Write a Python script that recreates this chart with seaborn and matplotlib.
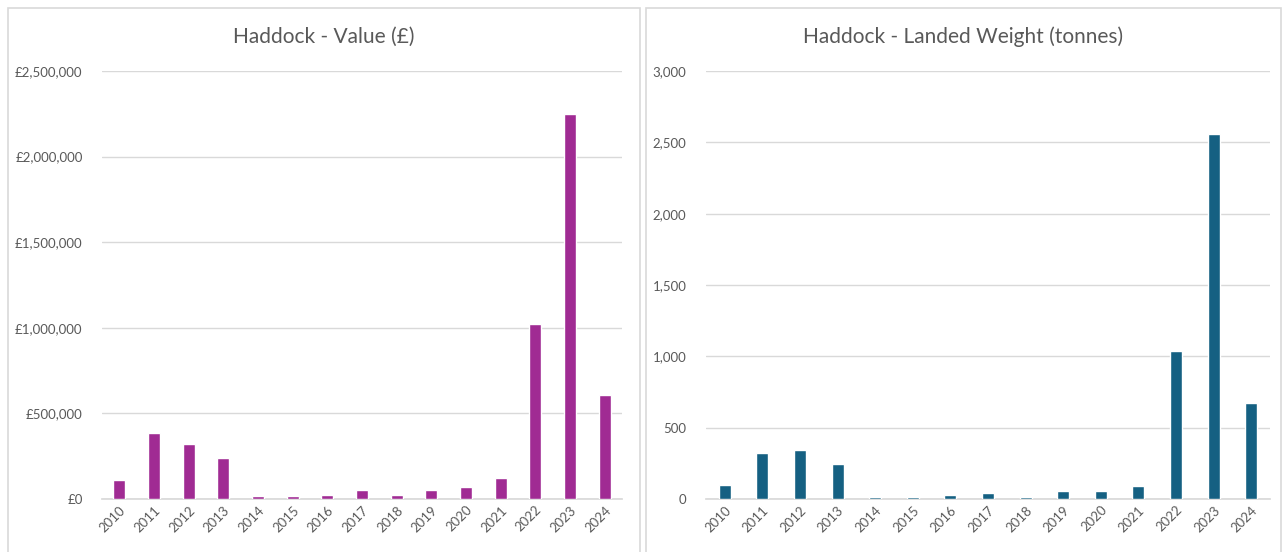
import matplotlib
matplotlib.use('Agg')
import matplotlib.pyplot as plt
import matplotlib.ticker as mticker
from matplotlib.patches import Rectangle
import seaborn as sns
import pandas as pd

# Data
years = ['2010', '2011', '2012', '2013', '2014', '2015', '2016', '2017',
         '2018', '2019', '2020', '2021', '2022', '2023', '2024']
value_gbp = [112000, 385000, 323000, 240000, 16000, 16000, 23000, 53000,
             23000, 53000, 68000, 121000, 1022000, 2250000, 607000]
weight_t = [98, 325, 341, 243, 12, 12, 26, 44,
            11, 54, 54, 91, 1037, 2556, 675]

df = pd.DataFrame({'year': years, 'value': value_gbp, 'weight': weight_t})

sns.set_theme(style='white')
plt.rcParams['font.family'] = ['Lato', 'DejaVu Sans']

text_col = '#595959'
grid_col = '#d9d9d9'

W, H = 1282, 552
fig = plt.figure(figsize=(W / 100, H / 100), dpi=100)

# panel borders (two separate chart boxes)
panels = [(8, 640), (646, 1281)]
for x0, x1 in panels:
    fig.patches.append(Rectangle((x0 / W, -0.01), (x1 - x0) / W, (H - 8) / H + 0.01,
                                 transform=fig.transFigure, fill=False,
                                 edgecolor=grid_col, linewidth=1.2))


def panel(rect, box, col, color, title, ymax, step, fmt, bw):
    ax = fig.add_axes([rect[0] / W, (H - 499) / H, (rect[1] - rect[0]) / W, 428 / H])
    sns.barplot(data=df, x='year', y=col, color=color, width=bw,
                saturation=1, ax=ax, zorder=3)
    ax.set_ylim(0, ymax)
    ax.set_xlim(-0.5, len(years) - 0.5)
    ax.yaxis.set_major_locator(mticker.MultipleLocator(step))
    ax.yaxis.set_major_formatter(mticker.FuncFormatter(fmt))
    ax.grid(axis='y', color=grid_col, linewidth=1)
    ax.set_axisbelow(True)
    for s in ['top', 'right', 'left']:
        ax.spines[s].set_visible(False)
    ax.spines['bottom'].set_color(grid_col)
    ax.spines['bottom'].set_zorder(1)
    ax.tick_params(axis='both', length=0, colors=text_col, labelsize=9.5)
    ax.tick_params(axis='y', pad=14)
    plt.setp(ax.get_xticklabels(), rotation=45, ha='right', rotation_mode='anchor')
    ax.set_xlabel('')
    ax.set_ylabel('')
    # title centred on the whole chart box, not the plot area
    fig.text((box[0] + box[1]) / 2 / W, 1 - 37 / H, title, color=text_col,
             fontsize=15, ha='center', va='center')
    return ax


panel((102, 622), panels[0], 'value', '#A02B93', 'Haddock - Value (£)',
      2500000, 500000, lambda v, p: f'£{v:,.0f}', 0.34)
panel((706, 1270), panels[1], 'weight', '#156082', 'Haddock - Landed Weight (tonnes)',
      3000, 500, lambda v, p: f'{v:,.0f}', 0.32)

fig.savefig('out.png', dpi=100)
